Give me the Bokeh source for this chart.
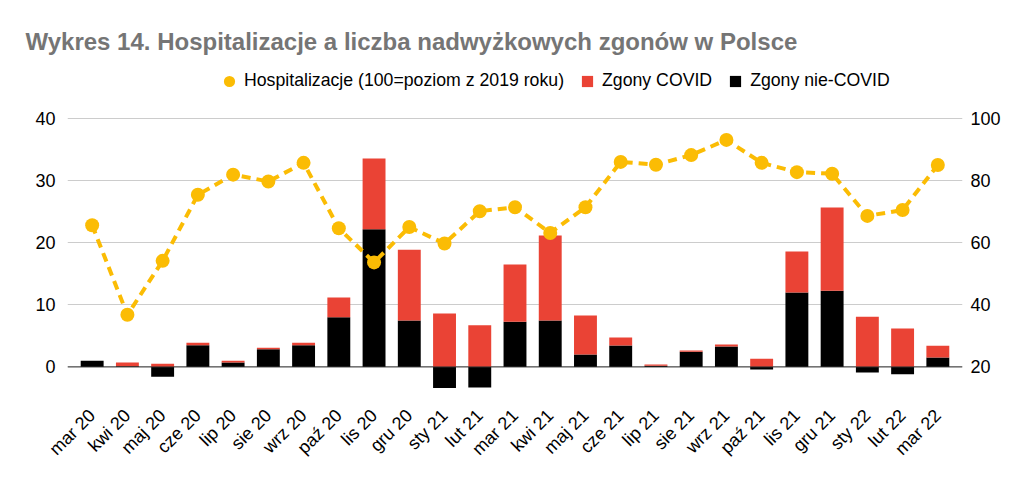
import math
from bokeh.plotting import figure
from bokeh.models import (Range1d, LinearAxis, FactorRange, FixedTicker, Span,
                          Legend, LegendItem, Title, ColumnDataSource)
from bokeh.embed import file_html
from bokeh.resources import INLINE

months = ["mar 20", "kwi 20", "maj 20", "cze 20", "lip 20", "sie 20", "wrz 20",
          "paź 20", "lis 20", "gru 20", "sty 21", "lut 21", "mar 21", "kwi 21",
          "maj 21", "cze 21", "lip 21", "sie 21", "wrz 21", "paź 21", "lis 21",
          "gru 21", "sty 22", "lut 22", "mar 22"]
zgony_nie_covid = [1.0, 0.1, -1.6, 3.5, 0.7, 2.85, 3.5, 8.0, 22.2, 7.5, -3.4, -3.3,
                   7.3, 7.5, 2.0, 3.45, 0.2, 2.45, 3.3, -0.4, 12.0, 12.3, -0.9, -1.2, 1.5]
zgony_covid = [0.0, 0.6, 0.5, 0.4, 0.3, 0.25, 0.4, 3.2, 11.4, 11.4, 8.6, 6.7,
               9.2, 13.7, 6.3, 1.3, 0.2, 0.2, 0.3, 1.3, 6.6, 13.4, 8.1, 6.2, 1.9]
hospitalizacje = [65.7, 36.8, 54.2, 75.5, 82.0, 79.8, 85.8, 64.7, 53.7, 65.1, 59.8,
                  70.2, 71.5, 63.2, 71.5, 86.1, 85.2, 88.3, 93.2, 85.8, 82.8, 82.3,
                  68.7, 70.6, 85.1]
left_ticks = [0, 10, 20, 30, 40]
right_ticks = [20, 40, 60, 80, 100]

title_text = "Wykres 14. Hospitalizacje a liczba nadwyżkowych zgonów w Polsce"
FONT = "Liberation Sans"
RED = "#ea4335"
YEL = "#fbbc04"

red_bottom = [max(v, 0) for v in zgony_nie_covid]
red_top = [b + c for b, c in zip(red_bottom, zgony_covid)]

src = ColumnDataSource(dict(x=months, nc=zgony_nie_covid, rb=red_bottom, rt=red_top,
                            h=hospitalizacje))

p = figure(width=1028, height=477, output_backend="svg", toolbar_location=None,
           x_range=FactorRange(*months, range_padding=0.2, range_padding_units="absolute"),
           y_range=Range1d(-3.8, 49.4),
           min_border_left=67, min_border_right=66, min_border_top=60,
           min_border_bottom=87)
p.extra_y_ranges = {"right": Range1d(12.4, 118.8)}
p.outline_line_color = None
p.background_fill_color = "white"
p.border_fill_color = "white"

p.title = Title(text=title_text, align="left", offset=-42, standoff=11,
                text_font=FONT, text_font_size="24px", text_font_style="bold",
                text_color="#757575")

# axes
p.yaxis.ticker = FixedTicker(ticks=left_ticks)
ax_r = LinearAxis(y_range_name="right", ticker=FixedTicker(ticks=right_ticks))
p.add_layout(ax_r, "right")
for ax in [p.yaxis[0], ax_r, p.xaxis[0]]:
    ax.axis_line_color = None
    ax.major_tick_line_color = None
    ax.minor_tick_line_color = None
    ax.major_label_text_font = FONT
    ax.major_label_text_color = "#000000"
p.yaxis[0].major_label_text_font_size = "18px"
ax_r.major_label_text_font_size = "18px"
p.yaxis[0].major_label_standoff = 6
ax_r.major_label_standoff = 2
p.xaxis[0].major_label_text_font_size = "18px"
p.xaxis[0].major_label_orientation = math.pi / 4
p.xaxis[0].major_label_standoff = 16

p.xgrid.grid_line_color = None
p.ygrid.grid_line_color = "#cccccc"
p.ygrid.grid_line_width = 1

# bars
r_black = p.vbar(x="x", bottom=0, top="nc", width=0.65, source=src,
                 fill_color="#000000", line_color=None)
r_red = p.vbar(x="x", bottom="rb", top="rt", width=0.65, source=src,
               fill_color=RED, line_color=None)
p.add_layout(Span(location=0, dimension="width", line_color="#333333", line_width=1))

# line with dots
p.line(x="x", y="h", source=src, y_range_name="right", line_color=YEL,
       line_width=4, line_dash="9 6")
r_dot = p.ellipse(x="x", y="h", source=src, y_range_name="right", width=14,
                  height=14, width_units="screen", height_units="screen",
                  fill_color=YEL, line_color=None)

legend = Legend(items=[LegendItem(label="Hospitalizacje (100=poziom z 2019 roku)", renderers=[r_dot]),
                       LegendItem(label="Zgony COVID", renderers=[r_red]),
                       LegendItem(label="Zgony nie-COVID", renderers=[r_black])],
                location=(155, 299), orientation="horizontal",
                glyph_width=14, glyph_height=14, label_standoff=8, spacing=16,
                padding=0, margin=0, border_line_color=None,
                background_fill_alpha=0, label_text_font=FONT,
                label_text_font_size="17.7px", label_text_color="#000000")
p.add_layout(legend, "center")

open("out.html", "w").write(file_html(p, INLINE))
